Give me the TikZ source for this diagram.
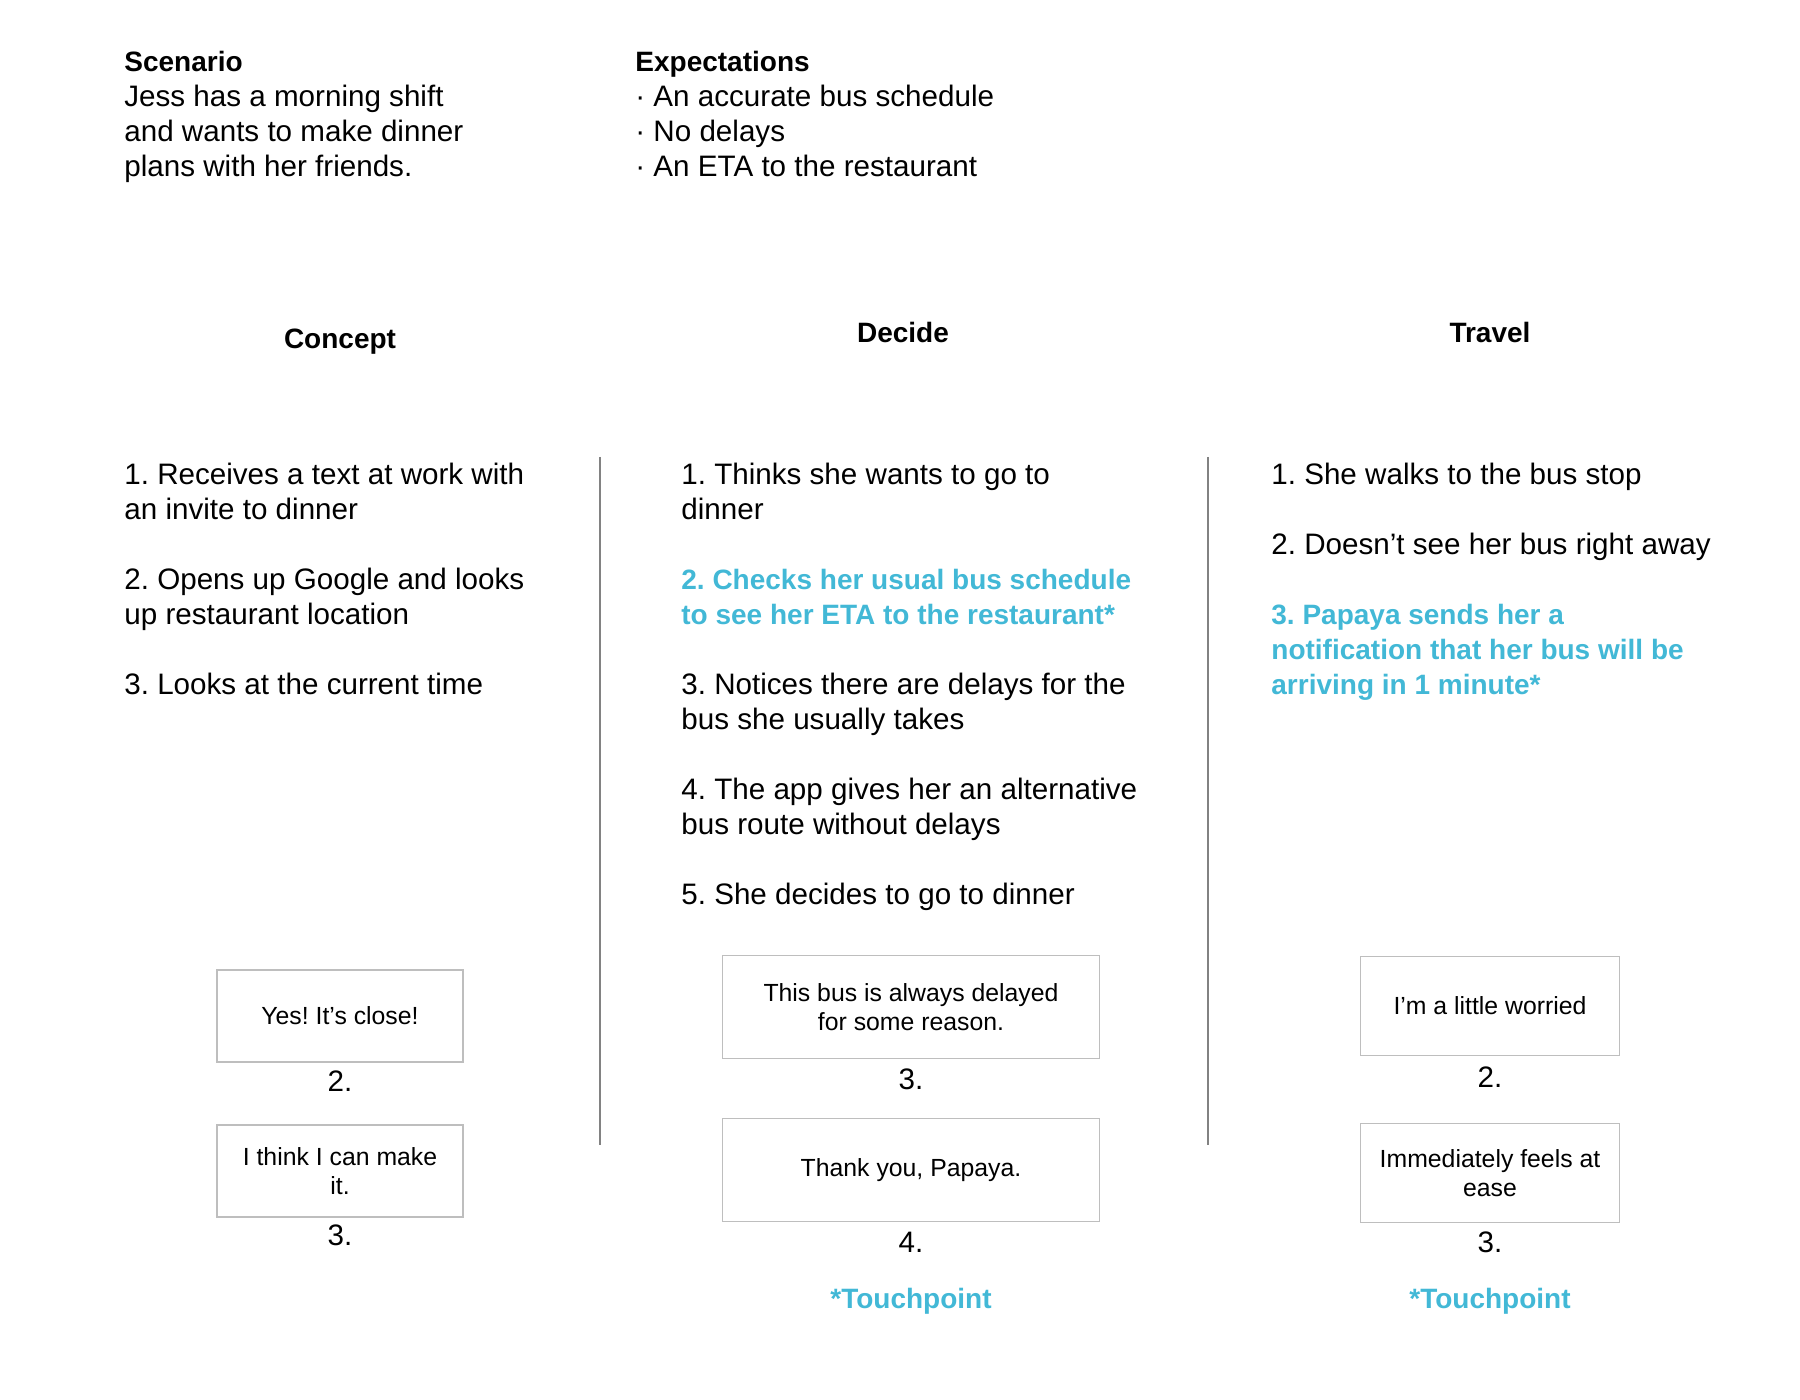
\documentclass[tikz,border=0pt]{standalone}
\usepackage{fontspec}
\setmainfont{Liberation Sans}
\usetikzlibrary{positioning}
\definecolor{touchblue}{RGB}{66,184,214}
\definecolor{boxgray}{RGB}{190,190,190}
\definecolor{rulegray}{RGB}{130,130,130}
\newcommand{\bodysize}{\fontsize{14.8}{17.5}\selectfont}
\newcommand{\boldsize}{\fontsize{14}{17.5}\selectfont\bfseries}
\newcommand{\quotesize}{\fontsize{12.4}{14.4}\selectfont}
\frenchspacing

\begin{document}
\begin{tikzpicture}[x=0.5pt,y=-0.5pt,
  body/.style={font=\bodysize, inner sep=0pt, align=left, anchor=base west},
  hot/.style={body, font=\boldsize, text=touchblue},
  head/.style={font=\boldsize, inner sep=0pt, anchor=base},
  num/.style={font=\bodysize, inner sep=0pt, anchor=base},
  quotebox/.style={draw=boxgray, line width=0.75pt, inner sep=0pt, align=center, font=\quotesize},
  divider/.style={rulegray, line width=1pt}]
\useasboundingbox (0,0) rectangle (1800,1400);
\node[body] (scenario) at (124,177) {{\boldsize Scenario}\\Jess has a morning shift\\and wants to make dinner\\plans with her friends.};
\node[body] (expect) at (635,177) {{\boldsize Expectations}\\· An accurate bus schedule\\· No delays\\· An ETA to the restaurant};
\node[head] (concept) at (340,349) {Concept};
\node[head] (decide) at (903,343) {Decide};
\node[head] (travel) at (1490,343) {Travel};
\draw[divider] (600,457) -- (600,1145);
\draw[divider] (1208,457) -- (1208,1145);
\node[body] (c1) at (124,520) {1. Receives a text at work with\\an invite to dinner};
\node[body] (c2) at (124,625) {2. Opens up Google and looks\\up restaurant location};
\node[body] (c3) at (124,695) {3. Looks at the current time};
\node[body] (d1) at (681,520) {1. Thinks she wants to go to\\dinner};
\node[hot] (d2) at (681,625) {2. Checks her usual bus schedule\\to see her ETA to the restaurant*};
\node[body] (d3) at (681,730) {3. Notices there are delays for the\\bus she usually takes};
\node[body] (d4) at (681,835) {4. The app gives her an alternative\\bus route without delays};
\node[body] (d5) at (681,905) {5. She decides to go to dinner};
\node[body] (t1) at (1271,485) {1. She walks to the bus stop};
\node[body] (t2) at (1271,555) {2. Doesn’t see her bus right away};
\node[hot] (t3) at (1271,695) {3. Papaya sends her a\\notification that her bus will be\\arriving in 1 minute*};
\node[quotebox, minimum width=123pt, minimum height=46pt] (cq2) at (340,1016) {Yes! It’s close!};
\node[num] (cn2) at (340,1091) {2.};
\node[quotebox, minimum width=123pt, minimum height=46pt] (cq3) at (340,1171) {I think I can make\\it.};
\node[num] (cn3) at (340,1245) {3.};
\node[quotebox, minimum width=188.5pt, minimum height=51.5pt] (dq3) at (911,1007) {This bus is always delayed\\for some reason.};
\node[num] (dn3) at (911,1089) {3.};
\node[quotebox, minimum width=188.5pt, minimum height=51.5pt] (dq4) at (911,1170) {Thank you, Papaya.};
\node[num] (dn4) at (911,1252) {4.};
\node[head, text=touchblue] (dtouch) at (911,1308) {*Touchpoint};
\node[quotebox, minimum width=129.5pt, minimum height=49.5pt] (tq2) at (1490,1006) {I’m a little worried};
\node[num] (tn2) at (1490,1087) {2.};
\node[quotebox, minimum width=129.5pt, minimum height=49.5pt] (tq3) at (1490,1173) {Immediately feels at\\ease};
\node[num] (tn3) at (1490,1252) {3.};
\node[head, text=touchblue] (ttouch) at (1490,1308) {*Touchpoint};
\end{tikzpicture}
\end{document}
